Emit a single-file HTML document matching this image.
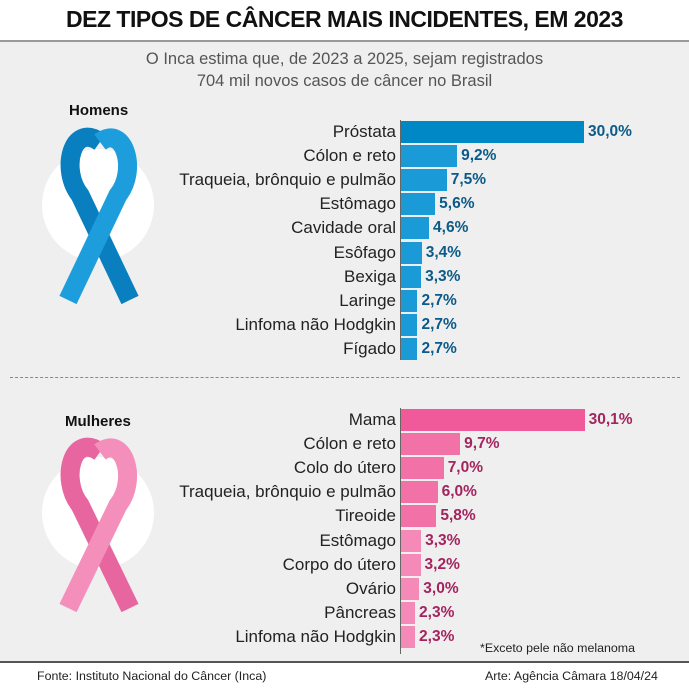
<!DOCTYPE html><html><head><meta charset="utf-8"><style>
body{margin:0;width:689px;height:688px;background:#fff;font-family:"Liberation Sans",sans-serif;position:relative;overflow:hidden}
.t{position:absolute;top:6px;left:0;width:689px;text-align:center;font:bold 23px "Liberation Sans",sans-serif;letter-spacing:-0.5px;color:#111}
.bg{position:absolute;top:40px;left:0;width:689px;height:623px;background:#efefef;border-top:2px solid #999;border-bottom:2px solid #555;box-sizing:border-box}
.sub{position:absolute;top:48px;left:0;width:689px;text-align:center;font-size:16.5px;line-height:22px;color:#555}
.lab{position:absolute;right:293px;font-size:17px;color:#222;white-space:nowrap}
.bar{position:absolute;left:401px;height:22px}
.v{position:absolute;font-weight:bold;font-size:15.5px}
.ax{position:absolute;left:400px;width:1px;background:#666}
.h{position:absolute;font-weight:bold;font-size:15px;color:#111}
.f{position:absolute;font-size:12.4px;color:#222}
</style></head><body>
<div class="t">DEZ TIPOS DE CÂNCER MAIS INCIDENTES, EM 2023</div>
<div class="bg"></div>
<div class="sub">O Inca estima que, de 2023 a 2025, sejam registrados<br>704 mil novos casos de câncer no Brasil</div>
<div style="position:absolute;left:10px;right:9px;top:377px;border-top:1.5px dashed #888"></div>
<div class="h" style="left:69px;top:102px">Homens</div>
<div class="h" style="left:65px;top:413px">Mulheres</div>
<svg width="689" height="688" style="position:absolute;left:0;top:0">
<circle cx="98" cy="205" r="56" fill="#fff"/>
<circle cx="98" cy="513" r="56" fill="#fff"/>
<g fill="none" stroke-linecap="butt">
<path d="M100 142 C72 122 60 170 80 195 L130 300" stroke="#0a7fc0" stroke-width="19"/>
<path d="M100 142 C124 124 138 170 118 195 L68 300" stroke="#1e9ddc" stroke-width="19"/>
<path d="M100 452 C72 432 60 480 80 505 L130 608" stroke="#e8669f" stroke-width="19"/>
<path d="M100 452 C124 434 138 480 118 505 L68 608" stroke="#f48fbb" stroke-width="19"/>
</g>
</svg>
<div class="ax" style="top:120px;height:240px"></div>
<div class="ax" style="top:408px;height:246px"></div>
<div id="m"></div>
<div class="f" style="left:480px;top:641px">*Exceto pele não melanoma</div>
<div class="f" style="left:37px;top:669px">Fonte: Instituto Nacional do Câncer (Inca)</div>
<div class="f" style="left:485px;top:669px">Arte: Agência Câmara 18/04/24</div>
<script>
var men=[["Próstata",30.0],["Cólon e reto",9.2],["Traqueia, brônquio e pulmão",7.5],["Estômago",5.6],["Cavidade oral",4.6],["Esôfago",3.4],["Bexiga",3.3],["Laringe",2.7],["Linfoma não Hodgkin",2.7],["Fígado",2.7]];
var wom=[["Mama",30.1],["Cólon e reto",9.7],["Colo do útero",7.0],["Traqueia, brônquio e pulmão",6.0],["Tireoide",5.8],["Estômago",3.3],["Corpo do útero",3.2],["Ovário",3.0],["Pâncreas",2.3],["Linfoma não Hodgkin",2.3]];
var h="";
function draw(d,y0,cs,vc){d.forEach(function(r,i){var c=y0+i*24.1,w=r[1]*6.1;
var col=i==0?cs[0]:(cs.length>2&&i<5?cs[1]:cs[cs.length-1]);
h+='<div class="lab" style="top:'+(c-10)+'px">'+r[0]+'</div>';
h+='<div class="bar" style="top:'+(c-11)+'px;width:'+w+'px;background:'+col+'"></div>';
h+='<div class="v" style="color:'+vc+';top:'+(c-9)+'px;left:'+(405+w)+'px">'+r[1].toFixed(1).replace(".",",")+'%</div>';});}
draw(men,132,["#0088c6","#1a9ad6"],"#0b5a88");
draw(wom,420,["#f0599a","#f271a6","#f58ab8"],"#a3245f");
document.getElementById("m").innerHTML=h;
</script>
</body></html>
